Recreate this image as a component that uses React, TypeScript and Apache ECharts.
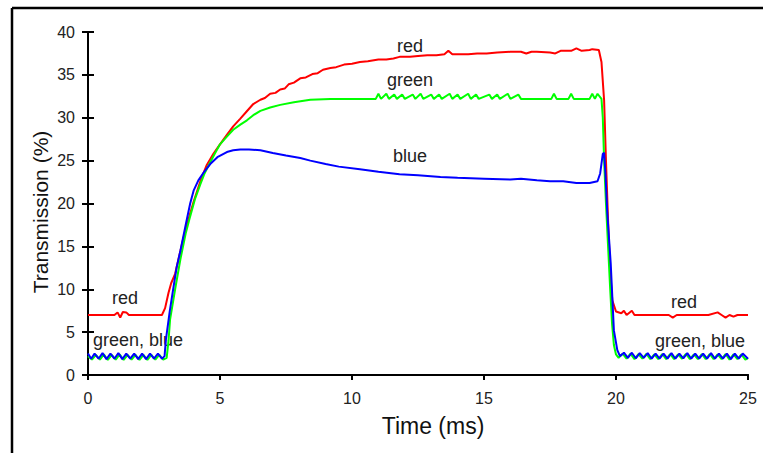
import React, { useEffect, useRef } from "react";
import * as echarts from "echarts";

const xTicks = [0, 5, 10, 15, 20, 25];
const yTicks = [0, 5, 10, 15, 20, 25, 30, 35, 40];

const redData: number[][] = [
  [0, 7.0], [0.5, 7.0], [1.0, 7.0], [1.12, 7.3], [1.22, 6.7], [1.32, 7.35], [1.45, 7.3], [1.55, 7.0],
  [2.0, 7.0], [2.5, 7.0], [2.8, 7.0], [2.92, 7.8], [3.05, 9.6], [3.15, 10.7], [3.3, 11.8],
  [3.45, 13.8], [3.6, 15.8], [3.8, 18.1], [4.0, 20.2], [4.15, 21.6], [4.3, 23.0], [4.5, 24.5],
  [4.75, 25.8], [5.0, 26.9], [5.26, 28.0], [5.5, 29.0], [5.77, 29.9], [6.0, 30.7], [6.26, 31.6],
  [6.53, 32.1], [6.7, 32.3], [6.9, 32.8], [7.1, 32.9], [7.28, 33.3], [7.45, 33.4], [7.6, 33.9],
  [7.8, 34.1], [8.04, 34.6], [8.25, 34.7], [8.5, 35.1], [8.7, 35.2], [8.9, 35.6], [9.18, 35.8],
  [9.4, 35.9], [9.7, 36.2], [10.0, 36.3], [10.3, 36.5], [10.6, 36.6], [11.0, 36.8], [11.3, 36.8],
  [11.57, 36.9], [11.8, 37.1], [12.2, 37.1], [12.5, 37.2], [12.85, 37.3], [13.2, 37.3], [13.5, 37.4],
  [13.65, 37.8], [13.8, 37.4], [14.0, 37.4], [14.4, 37.4], [14.74, 37.5], [15.1, 37.5], [15.5, 37.6],
  [16.0, 37.7], [16.4, 37.7], [16.6, 37.5], [16.8, 37.7], [17.0, 37.7], [17.5, 37.6], [17.7, 37.5],
  [17.9, 37.8], [18.3, 37.8], [18.5, 38.1], [18.7, 37.8], [19.0, 37.9], [19.1, 38.0], [19.35, 37.9],
  [19.45, 36.5], [19.55, 32.0], [19.62, 25.0], [19.7, 18.0], [19.78, 12.0], [19.86, 8.7], [20.0, 7.4],
  [20.2, 7.2], [20.3, 7.5], [20.4, 7.0], [20.6, 7.5], [20.7, 7.0], [21.0, 7.0], [21.5, 7.0],
  [22.0, 7.0], [22.15, 6.7], [22.3, 7.0], [23.0, 7.0], [23.5, 7.0], [23.85, 7.3], [24.0, 7.0],
  [24.15, 6.7], [24.3, 7.0], [24.45, 6.8], [24.6, 7.0], [25.0, 7.0],
];

const greenData: number[][] = [
  [0, 2.2], [0.15, 1.8], [0.3, 2.35], [0.45, 1.8], [0.6, 2.4], [0.75, 1.75], [0.9, 2.35],
  [1.05, 1.8], [1.2, 2.4], [1.35, 1.75], [1.5, 2.35], [1.65, 1.8], [1.8, 2.35], [1.95, 1.75],
  [2.1, 2.35], [2.25, 1.75], [2.4, 2.35], [2.55, 1.8], [2.7, 2.35], [2.85, 1.8], [2.98, 2.0],
  [3.05, 4.0], [3.11, 6.5], [3.3, 10.0], [3.5, 13.5], [3.7, 16.5], [3.87, 18.5], [4.05, 20.5],
  [4.25, 22.2], [4.4, 23.4], [4.56, 24.4], [4.8, 25.8], [5.0, 26.9], [5.26, 27.8], [5.5, 28.6],
  [5.77, 29.2], [6.02, 29.7], [6.26, 30.3], [6.53, 30.8], [6.9, 31.2], [7.28, 31.5], [7.8, 31.8],
  [8.42, 32.1], [9.18, 32.2], [10.0, 32.2], [10.9, 32.2], [11.0, 32.8], [11.1, 32.2], [11.3, 32.8],
  [11.4, 32.2], [11.6, 32.7], [11.7, 32.2], [11.9, 32.7], [12.0, 32.2], [12.3, 32.7], [12.4, 32.2],
  [12.6, 32.8], [12.7, 32.2], [13.0, 32.7], [13.1, 32.2], [13.3, 32.7], [13.4, 32.2], [13.7, 32.8],
  [13.8, 32.2], [14.0, 32.7], [14.1, 32.2], [14.4, 32.8], [14.5, 32.2], [14.7, 32.7], [14.8, 32.2],
  [15.2, 32.7], [15.3, 32.2], [15.5, 32.7], [15.6, 32.2], [15.9, 32.8], [16.0, 32.2], [16.3, 32.7],
  [16.4, 32.2], [17.0, 32.2], [17.55, 32.2], [17.65, 32.8], [17.75, 32.2], [18.2, 32.2], [18.3, 32.8],
  [18.4, 32.2], [19.0, 32.2], [19.1, 32.8], [19.2, 32.2], [19.3, 32.8], [19.45, 32.2], [19.5, 30.0],
  [19.55, 25.0], [19.62, 20.0], [19.7, 15.0], [19.78, 10.0], [19.85, 6.0], [19.92, 3.5], [20.0, 2.4],
  [20.1, 2.0], [20.25, 2.5], [20.4, 1.9], [20.55, 2.5], [20.7, 1.85], [20.85, 2.45], [21.0, 1.9],
  [21.15, 2.45], [21.3, 1.85], [21.45, 2.4], [21.6, 1.85], [21.75, 2.45], [21.9, 1.85], [22.05, 2.45],
  [22.2, 1.85], [22.35, 2.4], [22.5, 1.9], [22.65, 2.45], [22.8, 1.85], [22.95, 2.4], [23.1, 1.85],
  [23.25, 2.45], [23.4, 1.85], [23.55, 2.45], [23.7, 1.85], [23.85, 2.4], [24.0, 1.85], [24.15, 2.45],
  [24.3, 1.8], [24.45, 2.4], [24.6, 1.85], [24.75, 2.4], [24.9, 1.8], [25.0, 2.0],
];

const blueData: number[][] = [
  [0, 2.5], [0.12, 1.9], [0.25, 2.5], [0.4, 1.9], [0.55, 2.55], [0.7, 1.85], [0.85, 2.5],
  [1.0, 1.9], [1.15, 2.55], [1.3, 1.85], [1.45, 2.5], [1.6, 1.9], [1.75, 2.5], [1.9, 1.85],
  [2.05, 2.5], [2.2, 1.85], [2.35, 2.5], [2.5, 1.9], [2.65, 2.5], [2.8, 1.9], [2.9, 2.2],
  [2.95, 4.1], [3.1, 7.5], [3.2, 9.5], [3.36, 12.6], [3.5, 14.5], [3.7, 17.5], [3.87, 20.0],
  [4.0, 21.5], [4.18, 22.7], [4.4, 23.7], [4.63, 24.6], [4.9, 25.4], [5.26, 26.0], [5.5, 26.2],
  [5.77, 26.3], [6.1, 26.3], [6.53, 26.2], [7.0, 25.9], [7.5, 25.6], [8.04, 25.3], [8.42, 25.0],
  [9.0, 24.6], [9.5, 24.3], [10.3, 24.0], [11.0, 23.7], [11.8, 23.4], [12.5, 23.3], [13.35, 23.1],
  [14.0, 23.0], [15.0, 22.9], [16.0, 22.8], [16.4, 22.9], [17.0, 22.7], [17.5, 22.6], [18.0, 22.6],
  [18.5, 22.4], [19.0, 22.4], [19.3, 22.6], [19.4, 23.5], [19.5, 25.8], [19.55, 25.9], [19.6, 23.5],
  [19.67, 18.9], [19.8, 13.0], [19.92, 5.2], [20.05, 2.9], [20.15, 2.2], [20.3, 2.6], [20.45, 2.0],
  [20.6, 2.6], [20.75, 1.95], [20.9, 2.55], [21.05, 2.0], [21.2, 2.55], [21.35, 1.9], [21.5, 2.5],
  [21.65, 1.9], [21.8, 2.5], [21.95, 1.9], [22.1, 2.55], [22.25, 1.9], [22.4, 2.5], [22.55, 1.95],
  [22.7, 2.55], [22.85, 1.9], [23.0, 2.5], [23.15, 1.9], [23.3, 2.5], [23.45, 1.9], [23.6, 2.55],
  [23.75, 1.9], [23.9, 2.5], [24.05, 1.9], [24.2, 2.5], [24.35, 1.85], [24.5, 2.5], [24.65, 1.9],
  [24.8, 2.5], [25.0, 1.9],
];

const FONT = "Arial, 'Liberation Sans', Helvetica, sans-serif";

export default function App() {
  const ref = useRef<HTMLDivElement>(null);
  useEffect(() => {
    if (!ref.current) return;
    const chart = echarts.init(ref.current, undefined, { renderer: "svg" });
    const axisLine = { show: true, lineStyle: { color: "#000", width: 2 } };
    const label = (t: string) => ({
      type: "text",
      style: { text: t, font: `18px ${FONT}`, fill: "#222", textAlign: "center", textVerticalAlign: "middle" },
    });
    chart.setOption({
      animation: false,
      backgroundColor: "#fff",
      grid: { left: 88, top: 32, right: 15, bottom: 78 },
      xAxis: [
        {
          type: "value", min: xTicks[0], max: xTicks[xTicks.length - 1], interval: 5, position: "bottom",
          axisLine, axisTick: { show: true, inside: false, length: 5, lineStyle: { color: "#000", width: 2 } },
          axisLabel: { color: "#222", fontSize: 16, fontFamily: FONT, margin: 15 },
          splitLine: { show: false },
        },
        {
          type: "value", min: xTicks[0], max: xTicks[xTicks.length - 1], interval: 5, position: "top",
          axisLine, axisTick: { show: true, inside: true, length: 4, lineStyle: { color: "#000", width: 2 } },
          axisLabel: { show: false }, splitLine: { show: false },
        },
      ],
      yAxis: [
        {
          type: "value", min: yTicks[0], max: yTicks[yTicks.length - 1], interval: 5, position: "left",
          axisLine, axisTick: { show: true, inside: false, length: 6, lineStyle: { color: "#000", width: 2 } },
          axisLabel: { color: "#222", fontSize: 16, fontFamily: FONT, margin: 13 },
          splitLine: { show: false },
        },
        {
          type: "value", min: yTicks[0], max: yTicks[yTicks.length - 1], interval: 5, position: "right",
          axisLine, axisTick: { show: true, inside: false, length: 6, lineStyle: { color: "#000", width: 2 } },
          axisLabel: { show: false }, splitLine: { show: false },
        },
      ],
      series: [
        { type: "line", name: "red", data: redData, showSymbol: false, lineStyle: { color: "#ff0000", width: 2 }, itemStyle: { color: "#ff0000" } },
        { type: "line", name: "green", data: greenData, showSymbol: false, lineStyle: { color: "#00ff00", width: 2 }, itemStyle: { color: "#00ff00" } },
        { type: "line", name: "blue", data: blueData, showSymbol: false, lineStyle: { color: "#0000ff", width: 2 }, itemStyle: { color: "#0000ff" } },
      ],
      graphic: [
        { type: "line", shape: { x1: 12, y1: 8, x2: 763, y2: 8 }, style: { stroke: "#000", lineWidth: 2.5 } },
        { type: "line", shape: { x1: 12, y1: 8, x2: 12, y2: 453 }, style: { stroke: "#000", lineWidth: 2.5 } },
        { ...label("red"), x: 410, y: 46 },
        { ...label("green"), x: 410, y: 80 },
        { ...label("blue"), x: 410, y: 156 },
        { ...label("red"), x: 125, y: 298 },
        { ...label("green, blue"), x: 138, y: 340 },
        { ...label("red"), x: 684, y: 302 },
        { ...label("green, blue"), x: 700, y: 341 },
        {
          type: "text", x: 433, y: 426,
          style: { text: "Time (ms)", font: `23px ${FONT}`, fill: "#111", textAlign: "center", textVerticalAlign: "middle" },
        },
        {
          type: "text", x: 40, y: 212, rotation: Math.PI / 2,
          style: { text: "Transmission (%)", font: `21px ${FONT}`, fill: "#111", textAlign: "center", textVerticalAlign: "middle" },
        },
      ],
    });
    return () => chart.dispose();
  }, []);
  return <div ref={ref} style={{ position: "absolute", left: 0, top: 0, width: 763, height: 453 }} />;
}
